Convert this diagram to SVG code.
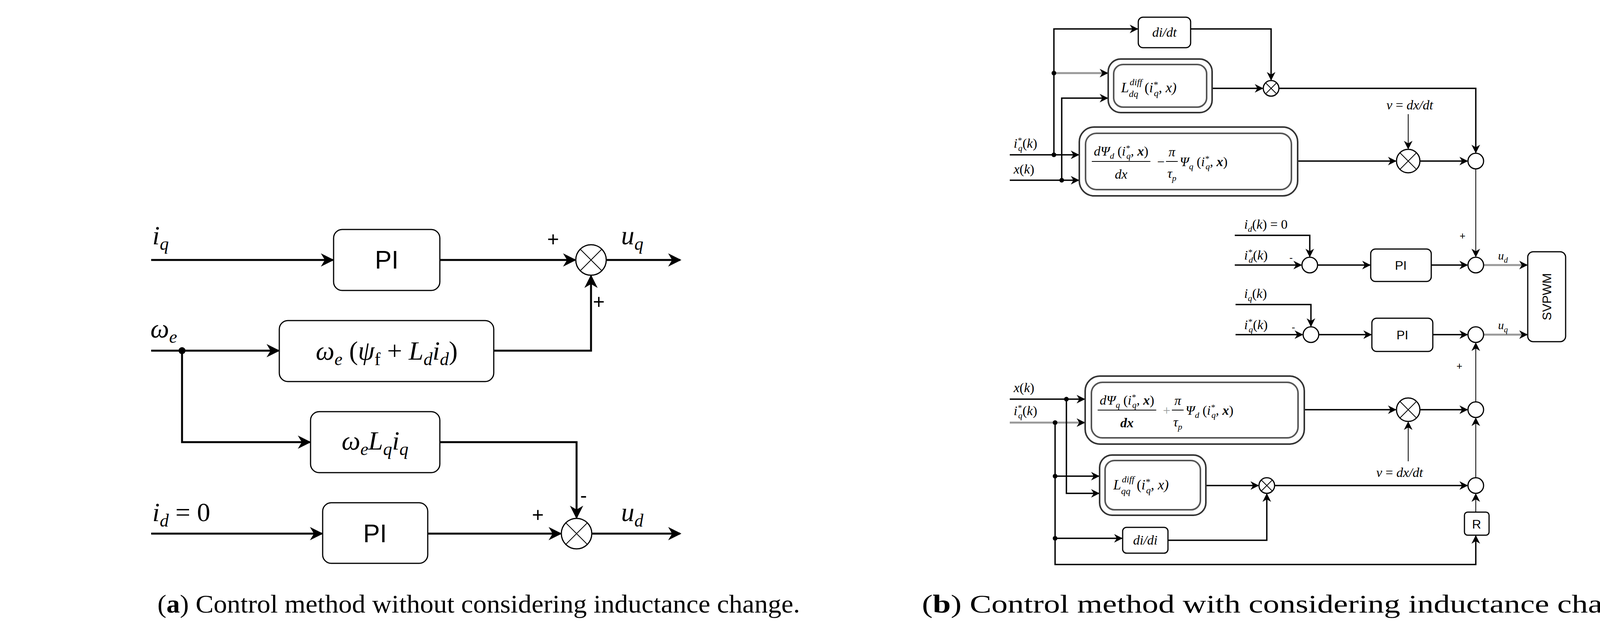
<svg xmlns="http://www.w3.org/2000/svg" width="4268" height="1632" viewBox="0 0 4268 1632">
<style>
.bg{fill:#fff}
.L{fill:none;stroke:#000;stroke-width:5}
.R{fill:none;stroke:#000;stroke-width:3.5}
.G{fill:none;stroke:#999;stroke-width:5}
.T{fill:none;stroke:#000;stroke-width:2}
.box{fill:#fff;stroke:#000;stroke-width:3}
.boxo{fill:#fff;stroke:#333;stroke-width:4}
.boxi{fill:none;stroke:#555;stroke-width:4}
.m{font-family:"Liberation Serif",serif;font-style:italic;fill:#000}
.n{font-family:"Liberation Serif",serif;font-style:normal}
.s{font-family:"Liberation Sans",Arial,sans-serif;fill:#000}
.cap{font-family:"Liberation Serif",serif;font-size:66px;fill:#000}
.circ{fill:#fff;stroke:#000;stroke-width:3}
</style>
<defs>
<marker id="a" viewBox="0 0 10 10" refX="9" refY="5" markerWidth="8" markerHeight="8" markerUnits="userSpaceOnUse" orient="auto"><path d="M0,0L10,5L0,10L3,5z" fill="#000"/></marker>
<marker id="aL" viewBox="0 0 10 10" refX="9" refY="5" markerWidth="34" markerHeight="34" markerUnits="userSpaceOnUse" orient="auto"><path d="M0,0L10,5L0,10L3,5z" fill="#000"/></marker>
<marker id="aR" viewBox="0 0 10 10" refX="9" refY="5" markerWidth="22" markerHeight="22" markerUnits="userSpaceOnUse" orient="auto"><path d="M0,0L10,5L0,10L3,5z" fill="#000"/></marker>
</defs>
<rect class="bg" width="4268" height="1632"/>

<g id="connectors">
<!-- left -->
<path class="L" d="M387,665H852" marker-end="url(#aL)"/>
<path class="L" d="M1126,665H1472" marker-end="url(#aL)"/>
<path class="L" d="M1552,665H1741" marker-end="url(#aL)"/>
<path class="L" d="M387,897H713" marker-end="url(#aL)"/>
<path class="L" d="M1264,897H1513V706" marker-end="url(#aL)"/>
<path class="L" d="M466,897V1131H793" marker-end="url(#aL)"/>
<path class="L" d="M1126,1131H1476V1324" marker-end="url(#aL)"/>
<path class="L" d="M387,1365H824" marker-end="url(#aL)"/>
<path class="L" d="M1095,1365H1435" marker-end="url(#aL)"/>
<path class="L" d="M1515,1365H1741" marker-end="url(#aL)"/>
<circle cx="466" cy="897" r="9" fill="#000"/>
<!-- right -->
<path class="R" d="M2698,396V74H2912" marker-end="url(#aR)"/>
<path class="R" d="M3048,74H3254V204" marker-end="url(#aR)"/>
<path class="G" d="M2698,187H2835" marker-end="url(#aR)"/>
<path class="R" d="M2718,461V251H2835" marker-end="url(#aR)"/>
<path class="R" d="M3103,226H3232" marker-end="url(#aR)"/>
<path class="R" d="M3274,226H3778V390" marker-end="url(#aR)"/>
<path class="T" d="M3605,292V380" marker-end="url(#aR)"/>
<path class="R" d="M2585,396H2761" marker-end="url(#aR)"/>
<path class="R" d="M2585,461H2761" marker-end="url(#aR)"/>
<path class="R" d="M3322,412H3573" marker-end="url(#aR)"/>
<path class="R" d="M3635,412H3756" marker-end="url(#aR)"/>
<path class="T" d="M3778,432V656" marker-end="url(#aR)"/>
<path class="R" d="M3161,602H3353V656" marker-end="url(#aR)"/>
<path class="R" d="M3161,678H3331" marker-end="url(#aR)"/>
<path class="R" d="M3373,678H3507" marker-end="url(#aR)"/>
<path class="R" d="M3664,678H3756" marker-end="url(#aR)"/>
<path class="G" d="M3798,678H3909" marker-end="url(#aR)"/>
<path class="R" d="M3163,779H3356V834" marker-end="url(#aR)"/>
<path class="R" d="M3163,856H3334" marker-end="url(#aR)"/>
<path class="R" d="M3376,856H3510" marker-end="url(#aR)"/>
<path class="R" d="M3668,856H3756" marker-end="url(#aR)"/>
<path class="G" d="M3798,856H3909" marker-end="url(#aR)"/>
<path class="T" d="M3778,1028V878" marker-end="url(#aR)"/>
<path class="R" d="M2585,1021H2776" marker-end="url(#aR)"/>
<path class="G" d="M2585,1081H2776" marker-end="url(#aR)"/>
<path class="R" d="M3339,1048H3573" marker-end="url(#aR)"/>
<path class="R" d="M3635,1048H3756" marker-end="url(#aR)"/>
<path class="T" d="M3605,1180V1080" marker-end="url(#aR)"/>
<path class="R" d="M2730,1021V1262H2813" marker-end="url(#aR)"/>
<path class="R" d="M2701,1081V1444H3778V1371" marker-end="url(#aR)"/>
<path class="R" d="M2701,1218H2813" marker-end="url(#aR)"/>
<path class="R" d="M3087,1242H3221" marker-end="url(#aR)"/>
<path class="R" d="M3263,1242H3756" marker-end="url(#aR)"/>
<path class="R" d="M2701,1377H2872" marker-end="url(#aR)"/>
<path class="R" d="M2990,1382H3243V1264" marker-end="url(#aR)"/>
<path class="T" d="M3778,1310V1264" marker-end="url(#aR)"/>
<path class="T" d="M3778,1222V1070" marker-end="url(#aR)"/>
<g fill="#000"><circle cx="2698" cy="187" r="6"/><circle cx="2698" cy="396" r="6"/><circle cx="2718" cy="461" r="6"/><circle cx="2730" cy="1021" r="6"/><circle cx="2701" cy="1081" r="6"/><circle cx="2701" cy="1218" r="6"/><circle cx="2701" cy="1377" r="6"/></g>
</g>

<!-- left nodes -->
<g id="pi1"><rect class="box" x="854" y="587" width="272" height="156" rx="22"/><text class="s" x="990" y="687" font-size="64" text-anchor="middle">PI</text></g>
<g id="sum1"><circle class="circ" cx="1513" cy="665" r="39"/><path class="T" d="M1485,637L1541,693M1541,637L1485,693"/></g>
<g id="box2"><rect class="box" x="715" y="820" width="549" height="156" rx="22"/><text class="m" x="990" y="920" font-size="68" text-anchor="middle">ω<tspan font-size="46" dy="14">e</tspan><tspan class="n" dy="-14"> (</tspan>ψ<tspan class="n" font-size="46" dy="14">f</tspan><tspan class="n" dy="-14"> + </tspan>L<tspan font-size="46" dy="14">d</tspan><tspan dy="-14">i</tspan><tspan font-size="46" dy="14">d</tspan><tspan class="n" dy="-14">)</tspan></text></g>
<g id="box3"><rect class="box" x="795" y="1053" width="331" height="156" rx="22"/><text class="m" x="960" y="1150" font-size="68" text-anchor="middle">ω<tspan font-size="46" dy="14">e</tspan><tspan dy="-14">L</tspan><tspan font-size="46" dy="14">q</tspan><tspan dy="-14">i</tspan><tspan font-size="46" dy="14">q</tspan></text></g>
<g id="pi2"><rect class="box" x="826" y="1286" width="269" height="155" rx="22"/><text class="s" x="960" y="1387" font-size="64" text-anchor="middle">PI</text></g>
<g id="sum2"><circle class="circ" cx="1476" cy="1365" r="39"/><path class="T" d="M1448,1337L1504,1393M1504,1337L1448,1393"/></g>
<g id="left-labels">
<text class="m" x="390" y="625" font-size="68">i<tspan font-size="46" dy="14">q</tspan></text>
<text class="m" x="1590" y="625" font-size="68">u<tspan font-size="46" dy="14">q</tspan></text>
<text class="s" x="1416" y="630" font-size="52" text-anchor="middle">+</text>
<text class="s" x="1533" y="790" font-size="52" text-anchor="middle">+</text>
<text class="m" x="385" y="863" font-size="68">ω<tspan font-size="46" dy="14">e</tspan></text>
<text class="s" x="1494" y="1285" font-size="52" text-anchor="middle">-</text>
<text class="m" x="390" y="1333" font-size="68">i<tspan font-size="46" dy="14">d</tspan><tspan class="n" dy="-14"> = 0</tspan></text>
<text class="s" x="1377" y="1335" font-size="52" text-anchor="middle">+</text>
<text class="m" x="1590" y="1333" font-size="68">u<tspan font-size="46" dy="14">d</tspan></text>
</g>

<!-- right nodes -->
<g id="didt"><rect class="box" x="2914" y="44" width="134" height="78" rx="12"/><text class="m" x="2981" y="94" font-size="34" text-anchor="middle">di/dt</text></g>
<g id="ldq"><rect class="boxo" x="2837" y="151" width="266" height="137" rx="32"/><rect class="boxi" x="2851" y="165" width="238" height="109" rx="24"/><text class="m" x="2870" y="236" font-size="36">L<tspan font-size="24" dx="2" dy="-18">diff</tspan><tspan font-size="24" dx="-34" dy="30">dq</tspan><tspan class="n" font-size="36" dx="16" dy="-12">(</tspan>i<tspan font-size="24" dy="-12">*</tspan><tspan font-size="24" dx="-10" dy="22">q</tspan><tspan font-size="36" dy="-10">, x)</tspan></text></g>
<g id="mul1"><circle class="circ" cx="3254" cy="226" r="20"/><path class="T" d="M3240,212L3268,240M3268,212L3240,240"/></g>
<g id="sumA"><circle class="circ" cx="3778" cy="412" r="20"/></g>
<g id="box1"><rect class="boxo" x="2763" y="325" width="559" height="176" rx="38"/><rect class="boxi" x="2779" y="341" width="527" height="144" rx="28"/>
<text class="m" x="2870" y="398" font-size="34" text-anchor="middle">dΨ<tspan font-size="22" dy="8">d</tspan><tspan class="n" dy="-8"> (</tspan>i<tspan font-size="22" dy="-12">*</tspan><tspan font-size="22" dx="-9" dy="20">q</tspan><tspan dy="-8">, </tspan><tspan font-weight="bold">x</tspan><tspan class="n">)</tspan></text>
<path class="T" d="M2795,413H2945"/><text class="m" x="2870" y="457" font-size="34" text-anchor="middle">dx</text>
<text class="n" x="2962" y="425" font-size="34" font-family="Liberation Serif">−</text>
<text class="m" x="3000" y="400" font-size="34" text-anchor="middle">π</text><path class="T" d="M2985,413H3015"/><text class="m" x="3000" y="455" font-size="34" text-anchor="middle">τ<tspan font-size="22" dy="8">p</tspan></text>
<text class="m" x="3020" y="425" font-size="34">Ψ<tspan font-size="22" dy="8">q</tspan><tspan class="n" dy="-8"> (</tspan>i<tspan font-size="22" dy="-12">*</tspan><tspan font-size="22" dx="-9" dy="20">q</tspan><tspan dy="-8">, </tspan><tspan font-weight="bold">x</tspan><tspan class="n">)</tspan></text></g>
<g id="mulA"><circle class="circ" cx="3605" cy="412" r="30"/><path class="T" d="M3584,391L3626,433M3626,391L3584,433"/></g>
<g id="sumD"><circle class="circ" cx="3353" cy="678" r="20"/></g>
<g id="piD"><rect class="box" x="3509" y="637" width="155" height="83" rx="12"/><text class="s" x="3586" y="690" font-size="32" text-anchor="middle">PI</text></g>
<g id="sumUd"><circle class="circ" cx="3778" cy="678" r="20"/></g>
<g id="svpwm"><rect class="box" x="3911" y="644" width="97" height="230" rx="14"/><text class="s" transform="translate(3971,759) rotate(-90)" font-size="32" text-anchor="middle">SVPWM</text></g>
<g id="sumQ"><circle class="circ" cx="3356" cy="856" r="20"/></g>
<g id="piQ"><rect class="box" x="3512" y="814" width="156" height="85" rx="12"/><text class="s" x="3590" y="868" font-size="32" text-anchor="middle">PI</text></g>
<g id="sumUq"><circle class="circ" cx="3778" cy="856" r="20"/></g>
<g id="box4"><rect class="boxo" x="2778" y="962" width="561" height="174" rx="38"/><rect class="boxi" x="2794" y="978" width="529" height="142" rx="28"/>
<text class="m" x="2885" y="1035" font-size="34" text-anchor="middle">dΨ<tspan font-size="22" dy="8">q</tspan><tspan class="n" dy="-8"> (</tspan>i<tspan font-size="22" dy="-12">*</tspan><tspan font-size="22" dx="-9" dy="20">q</tspan><tspan dy="-8">, </tspan><tspan font-weight="bold">x</tspan><tspan class="n">)</tspan></text>
<path class="T" d="M2810,1049H2960"/><text class="m" x="2885" y="1093" font-size="34" text-anchor="middle" font-weight="bold">dx</text>
<text class="n" x="2977" y="1061" font-size="34" font-family="Liberation Serif" fill="#999">+</text>
<text class="m" x="3015" y="1036" font-size="34" text-anchor="middle">π</text><path class="T" d="M3000,1049H3030"/><text class="m" x="3015" y="1091" font-size="34" text-anchor="middle">τ<tspan font-size="22" dy="8">p</tspan></text>
<text class="m" x="3035" y="1061" font-size="34">Ψ<tspan font-size="22" dy="8">d</tspan><tspan class="n" dy="-8"> (</tspan>i<tspan font-size="22" dy="-12">*</tspan><tspan font-size="22" dx="-9" dy="20">q</tspan><tspan dy="-8">, </tspan><tspan font-weight="bold">x</tspan><tspan class="n">)</tspan></text></g>
<g id="mulB"><circle class="circ" cx="3605" cy="1048" r="30"/><path class="T" d="M3584,1027L3626,1069M3626,1027L3584,1069"/></g>
<g id="sumB"><circle class="circ" cx="3778" cy="1048" r="20"/></g>
<g id="lqq"><rect class="boxo" x="2815" y="1164" width="272" height="154" rx="32"/><rect class="boxi" x="2829" y="1178" width="244" height="126" rx="24"/><text class="m" x="2850" y="1252" font-size="36">L<tspan font-size="24" dx="2" dy="-18">diff</tspan><tspan font-size="24" dx="-34" dy="30">qq</tspan><tspan class="n" font-size="36" dx="16" dy="-12">(</tspan>i<tspan font-size="24" dy="-12">*</tspan><tspan font-size="24" dx="-10" dy="22">q</tspan><tspan font-size="36" dy="-10">, x)</tspan></text></g>
<g id="mul2"><circle class="circ" cx="3243" cy="1242" r="20"/><path class="T" d="M3229,1228L3257,1256M3257,1228L3229,1256"/></g>
<g id="sumC"><circle class="circ" cx="3778" cy="1242" r="20"/></g>
<g id="didi"><rect class="box" x="2874" y="1349" width="116" height="66" rx="10"/><text class="m" x="2932" y="1393" font-size="34" text-anchor="middle">di/di</text></g>
<g id="rbox"><rect class="box" x="3749" y="1310" width="63" height="59" rx="8"/><text class="s" x="3780" y="1352" font-size="32" text-anchor="middle">R</text></g>
<g id="right-labels">
<text class="m" x="2595" y="378" font-size="34">i<tspan font-size="22" dy="-12">*</tspan><tspan font-size="22" dx="-9" dy="20">q</tspan><tspan class="n" dy="-8">(</tspan>k<tspan class="n">)</tspan></text>
<text class="m" x="2595" y="444" font-size="34">x<tspan class="n">(</tspan>k<tspan class="n">)</tspan></text>
<text class="m" x="3609" y="280" font-size="34" text-anchor="middle">v <tspan class="n">=</tspan> dx/dt</text>
<text class="s" x="3744" y="612" font-size="26" text-anchor="middle">+</text>
<text class="m" x="3185" y="585" font-size="34">i<tspan font-size="22" dy="8">d</tspan><tspan class="n" dy="-8">(</tspan>k<tspan class="n">) = 0</tspan></text>
<text class="m" x="3185" y="664" font-size="34">i<tspan font-size="22" dy="-12">*</tspan><tspan font-size="22" dx="-9" dy="20">d</tspan><tspan class="n" dy="-8">(</tspan>k<tspan class="n">)</tspan></text>
<text class="s" x="3305" y="668" font-size="26" text-anchor="middle">-</text>
<text class="m" x="3835" y="664" font-size="30">u<tspan font-size="20" dy="8">d</tspan></text>
<text class="m" x="3185" y="762" font-size="34">i<tspan font-size="22" dy="8">q</tspan><tspan class="n" dy="-8">(</tspan>k<tspan class="n">)</tspan></text>
<text class="m" x="3185" y="842" font-size="34">i<tspan font-size="22" dy="-12">*</tspan><tspan font-size="22" dx="-9" dy="20">q</tspan><tspan class="n" dy="-8">(</tspan>k<tspan class="n">)</tspan></text>
<text class="s" x="3311" y="846" font-size="26" text-anchor="middle">-</text>
<text class="m" x="3835" y="842" font-size="30">u<tspan font-size="20" dy="8">q</tspan></text>
<text class="s" x="3736" y="945" font-size="26" text-anchor="middle">+</text>
<text class="m" x="2595" y="1003" font-size="34">x<tspan class="n">(</tspan>k<tspan class="n">)</tspan></text>
<text class="m" x="2595" y="1062" font-size="34">i<tspan font-size="22" dy="-12">*</tspan><tspan font-size="22" dx="-9" dy="20">q</tspan><tspan class="n" dy="-8">(</tspan>k<tspan class="n">)</tspan></text>
<text class="m" x="3583" y="1220" font-size="34" text-anchor="middle">v <tspan class="n">=</tspan> dx/dt</text>
</g>

<g id="captions">
<text class="cap" x="403" y="1567" textLength="1645" lengthAdjust="spacingAndGlyphs">(<tspan font-weight="bold">a</tspan>) Control method without considering inductance change.</text>
<text class="cap" x="2360" y="1567" textLength="1883" lengthAdjust="spacingAndGlyphs">(<tspan font-weight="bold">b</tspan>) Control method with considering inductance change.</text>
</g>
</svg>
